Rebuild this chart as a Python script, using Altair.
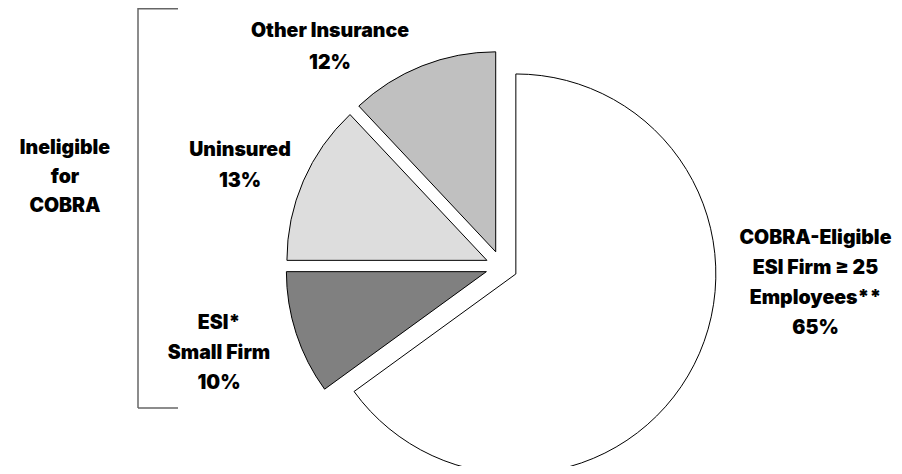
import altair as alt
import pandas as pd

# ---- data ----
categories = ["COBRA-Eligible\nESI Firm ≥ 25\nEmployees**", "ESI*\nSmall Firm", "Uninsured", "Other Insurance"]
values = [65, 10, 13, 12]
slice_order = [0, 1, 2, 3]
colors = ["#ffffff", "#808080", "#dddddd", "#c0c0c0"]
bracket_label = "Ineligible\nfor\nCOBRA"

df = pd.DataFrame({"category": categories, "value": values, "order": slice_order, "color": colors})

W, H = 886, 458
FONT = "Inter"
EXPLODE = 0.08  # fraction of radius

arcs = (
    alt.Chart(df)
    .transform_window(cum="sum(value)", sort=[alt.SortField("order")])
    .transform_calculate(
        start="datum.cum - datum.value",
        mid="(datum.cum - datum.value / 2) / 100 * 2 * PI",
    )
    .transform_calculate(
        dx=f"sin(datum.mid) * {EXPLODE}",
        dy=f"cos(datum.mid) * {EXPLODE}",
    )
    .mark_arc(radius=200, stroke="black", strokeWidth=1)
    .encode(
        theta=alt.Theta("start:Q", stack=False, scale=alt.Scale(domain=[0, 100])),
        theta2="cum:Q",
        x=alt.X("dx:Q", axis=None, scale=alt.Scale(domain=[-2.468, 1.962], nice=False, zero=False)),
        y=alt.Y("dy:Q", axis=None, scale=alt.Scale(domain=[-0.9965, 1.2935], nice=False, zero=False)),
        color=alt.Color("color:N", scale=None),
    )
)


def label(text, x, y, lh=30):
    # y is the centre of the first line
    return (
        alt.Chart(pd.DataFrame({"t": [text]}))
        .mark_text(font=FONT, fontSize=19.5, fontWeight=900, color="black",
                   align="center", baseline="middle", lineBreak="\n", lineHeight=lh)
        .encode(x=alt.value(x), y=alt.value(y), text="t:N")
    )


def slice_text(i):
    return f"{categories[i]}\n{values[i]}%"


texts = [
    label(slice_text(3), 322, 22.5, 32),
    label(slice_text(2), 232, 141.5, 31),
    label(slice_text(1), 211, 314.5),
    label(slice_text(0), 807.5, 229.5),
    label(bracket_label, 57, 139.5, 29),
]

rule_src = alt.Chart(pd.DataFrame({"k": [0]}))
bracket = [
    rule_src.mark_rule(color="#666666", strokeWidth=1.5).encode(x=alt.value(130), y=alt.value(0), y2=alt.value(400)),
    rule_src.mark_rule(color="#666666", strokeWidth=1.5).encode(x=alt.value(130), x2=alt.value(170), y=alt.value(0.75)),
    rule_src.mark_rule(color="#666666", strokeWidth=1.5).encode(x=alt.value(130), x2=alt.value(170), y=alt.value(400)),
]

chart = (
    alt.layer(arcs, *texts, *bracket)
    .properties(width=W, height=H, padding=0, background="white",
                autosize=alt.AutoSizeParams(type="none"))
    .configure_view(stroke=None, strokeWidth=0)
)

chart.save("out.html", embed_options={"renderer": "svg", "actions": False})
